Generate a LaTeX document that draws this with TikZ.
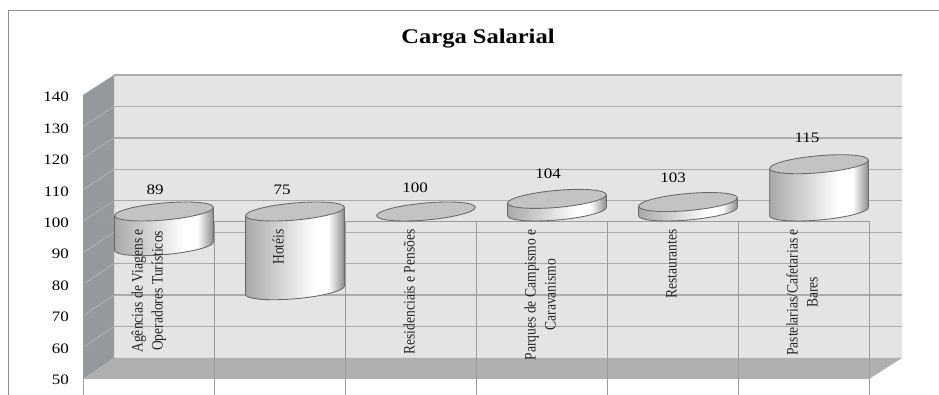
\documentclass[tikz,border=0pt]{standalone}
\usepackage{fontspec}
\setmainfont{Liberation Serif}
\usepackage{graphicx}
\definecolor{wallback}{HTML}{E3E4E4}
\definecolor{wallside}{HTML}{96999B}
\definecolor{floorc}{HTML}{ADAFB1}
\definecolor{gridc}{HTML}{A9ABAD}
\definecolor{sidegridc}{HTML}{ADB0B2}
\definecolor{axisc}{HTML}{999B9D}
\definecolor{framec}{HTML}{8F8F8F}
\definecolor{edgec}{HTML}{6A6C6E}
\definecolor{cyltop}{HTML}{C2C3C5}
\definecolor{cylL}{HTML}{A7A9AB}
\definecolor{cylM}{HTML}{D8D9DA}
\definecolor{cylR}{HTML}{8C8E90}
\pgfdeclarehorizontalshading{cylside}{100bp}{color(0bp)=(cylL); color(25bp)=(cylL); color(45bp)=(cylM); color(60bp)=(white); color(67bp)=(white); color(75bp)=(cylR); color(100bp)=(cylR)}
\newcommand{\cylbar}[3]{%
  \path[shading=cylside] (#1-49.31,#3-4.31) -- (#1-49.31,#2-4.31)
    -- plot[domain=180:360,samples=40,variable=\t] ({#1+49.5*cos(\t)*0.99619-8.5*sin(\t)*0.08716},{#2+49.5*cos(\t)*0.08716+8.5*sin(\t)*0.99619})
    -- (#1+49.31,#3+4.31) -- cycle;
  \draw[cyledge] (#1-49.31,#3-4.31) -- (#1-49.31,#2-4.31)
    -- plot[domain=180:360,samples=40,variable=\t] ({#1+49.5*cos(\t)*0.99619-8.5*sin(\t)*0.08716},{#2+49.5*cos(\t)*0.08716+8.5*sin(\t)*0.99619})
    -- (#1+49.31,#3+4.31);
  \draw[cyledge, fill=cyltop, rotate around={5:(#1,#3)}] (#1,#3) ellipse [x radius=49.5, y radius=8.5];
}
\tikzset{
  gridl/.style={draw=gridc, line width=1.3pt},
  sidegridl/.style={draw=sidegridc, line width=1pt},
  axisl/.style={draw=axisc, line width=0.9pt},
  cyledge/.style={draw=edgec, line width=0.9pt},
  numlab/.style={inner sep=0pt, font=\fontsize{17}{20}\selectfont},
  catlab/.style={inner sep=0pt, rotate=90, anchor=east, font=\fontsize{16}{20}\selectfont, text=black!85},
}
\begin{document}
\begin{tikzpicture}[x=1pt,y=1pt]
\useasboundingbox (0,0) rectangle (939,395);
% outer frame
\draw[framec, line width=1pt] (8,0) -- (8,384) -- (939,384);
% title
\node[inner sep=0pt, anchor=base, font=\fontsize{24.5}{29}\selectfont\bfseries] (title) at (478,351.5) {\scalebox{1}[0.85]{Carga Salarial}};
% back wall
\fill[wallback] (114,37) rectangle (902,320);
\foreach \v in {60,70,...,140} \draw[gridl] (114,{37+(\v-50)*3.144}) -- (902,{37+(\v-50)*3.144});
% side wall
\fill[wallside] (83,16) -- (114,37) -- (114,320) -- (83,300) -- cycle;
\foreach \v in {60,70,...,130} \draw[sidegridl] (83,{16+(\v-50)*3.156}) -- (114,{37+(\v-50)*3.144});
% floor
\fill[floorc] (83,16) -- (114,37) -- (902,37) -- (869,16) -- cycle;
% category axis line and boundaries
\draw[axisl] (83,173.8) -- (869,173.8);
\foreach \i in {0,...,6} \draw[axisl] ({83+131*\i},173.8) -- ({83+131*\i},0);
% cylinders
\cylbar{164}{148.85}{183.5}
\cylbar{295}{104.75}{183.5}
\draw[cyledge, fill=cyltop, rotate around={5:(426,183.5)}] (426,183.5) ellipse [x radius=49.5, y radius=8.5];
\cylbar{557}{183.5}{196.1}
\cylbar{688}{183.5}{192.95}
\cylbar{819}{183.5}{230.75}
% y axis labels
\foreach \v in {50,60,...,140} \node[numlab, anchor=east] (y\v) at (69,{15+(\v-50)*3.145}) {\scalebox{1}[0.85]{\v}};
% data labels
\node[numlab] (d1) at (155,205) {\scalebox{1}[0.85]{89}};
\node[numlab] (d2) at (282,205) {\scalebox{1}[0.85]{75}};
\node[numlab] (d3) at (415,207) {\scalebox{1}[0.85]{100}};
\node[numlab] (d4) at (548,221) {\scalebox{1}[0.85]{104}};
\node[numlab] (d5) at (673,217) {\scalebox{1}[0.85]{103}};
\node[numlab] (d6) at (807,257) {\scalebox{1}[0.85]{115}};
% category labels
\node[catlab] (c1) at (148.5,166) {\scalebox{0.85}[1]{\begin{tabular}{@{}c@{}}Agências de Viagens e\\Operadores Turísticos\end{tabular}}};
\node[catlab] (c2) at (279.5,166) {\scalebox{0.85}[1]{\begin{tabular}{@{}c@{}}Hotéis\end{tabular}}};
\node[catlab] (c3) at (410.5,166) {\scalebox{0.85}[1]{\begin{tabular}{@{}c@{}}Residenciais e Pensões\end{tabular}}};
\node[catlab] (c4) at (541.5,166) {\scalebox{0.85}[1]{\begin{tabular}{@{}c@{}}Parques de Campismo e\\Caravanismo\end{tabular}}};
\node[catlab] (c5) at (672.5,166) {\scalebox{0.85}[1]{\begin{tabular}{@{}c@{}}Restaurantes\end{tabular}}};
\node[catlab] (c6) at (803.5,166) {\scalebox{0.85}[1]{\begin{tabular}{@{}c@{}}Pastelarias/Cafetarias e\\Bares\end{tabular}}};
\end{tikzpicture}
\end{document}
